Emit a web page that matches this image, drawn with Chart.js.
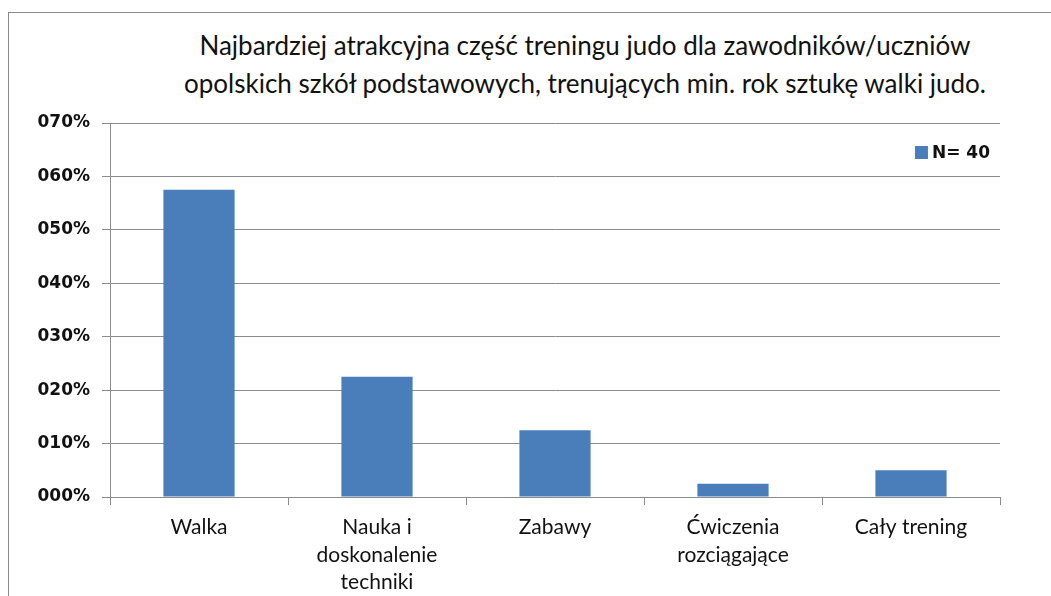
<!DOCTYPE html>
<html>
<head>
<meta charset="utf-8">
<script src="https://cdn.jsdelivr.net/npm/chart.js@4"></script>
<style>
  body { margin: 0; background: #fff; }
  #ramka { position: absolute; left: 8px; top: 12px; width: 1043px; height: 584px; border-left: 1px solid #8a8a8a; border-top: 1px solid #8a8a8a; }
  #tytul { position: absolute; left: 130px; width: 910px; top: 26px; text-align: center; font-family: Lato, sans-serif; font-size: 26px; line-height: 38px; color: #111; }
  #wykres { position: absolute; left: 0; top: 0; }
</style>
</head>
<body>
<div id="ramka"></div>
<div id="tytul">Najbardziej atrakcyjna część treningu judo dla zawodników/uczniów<br>opolskich szkół podstawowych, trenujących min. rok sztukę walki judo.</div>
<canvas id="wykres" width="1051" height="596"></canvas>
<script>
// kategorie i wartości (udział odpowiedzi, N = 40)
const kategorie = ['Walka', ['Nauka i', 'doskonalenie', 'techniki'], 'Zabawy', ['Ćwiczenia', 'rozciągające'], 'Cały trening'];
const udzialy = [0.575, 0.225, 0.125, 0.025, 0.05];
const etykietyY = ['000%', '010%', '020%', '030%', '040%', '050%', '060%', '070%'];
const nazwaSerii = 'N= 40';
const kolor = '#4a7ebb';

// legenda w prawym górnym rogu obszaru wykresu
const legendaWewnatrz = {
    id: 'legendaWewnatrz',
    afterDraw(chart) {
        const c = chart.ctx, a = chart.chartArea;
        const ds = chart.data.datasets[0];
        c.save();
        c.font = 'bold 17px "DejaVu Sans"';
        const w = c.measureText(ds.label).width;
        const xt = a.right - 10 - w, yc = a.top + 30;
        c.fillStyle = ds.backgroundColor;
        c.fillRect(xt - 17, yc - 7, 13, 13);
        c.fillStyle = '#111';
        c.textBaseline = 'middle';
        c.fillText(ds.label, xt, yc + 1);
        c.restore();
    }
};

document.addEventListener('DOMContentLoaded', function() {
    const ctx = document.getElementById('wykres').getContext('2d');
    new Chart(ctx, {
        type: 'bar',
        data: {
            labels: kategorie,
            datasets: [{ label: nazwaSerii, data: udzialy, backgroundColor: kolor,
                categoryPercentage: 1, barPercentage: 0.4 }]
        },
        options: {
            responsive: false, animation: false,
            layout: { padding: { top: 123, right: 51, left: 0, bottom: 0 } },
            plugins: {
                tooltip: { enabled: false },
                legend: { display: false }
            },
            scales: {
                x: {
                    grid: { drawOnChartArea: false, drawTicks: true, tickLength: 8, color: '#8c8c8c', offset: true },
                    border: { color: '#8c8c8c' },
                    ticks: { color: '#111', padding: 9, maxRotation: 0,
                        font: { family: 'Lato', size: 21, lineHeight: 1.3 } },
                    afterFit: function(s) { s.height = 99; }
                },
                y: {
                    min: 0, max: 0.7,
                    grid: { color: '#8c8c8c', tickLength: 8 },
                    border: { color: '#8c8c8c' },
                    ticks: { stepSize: 0.1, color: '#111', padding: 12,
                        font: { family: 'DejaVu Sans', size: 17, weight: 'bold' },
                        callback: function(v) { return etykietyY[Math.round(v * 10)]; } },
                    afterFit: function(s) { s.width = 110; }
                }
            }
        },
        plugins: [legendaWewnatrz]
    });
});
</script>
</body>
</html>
